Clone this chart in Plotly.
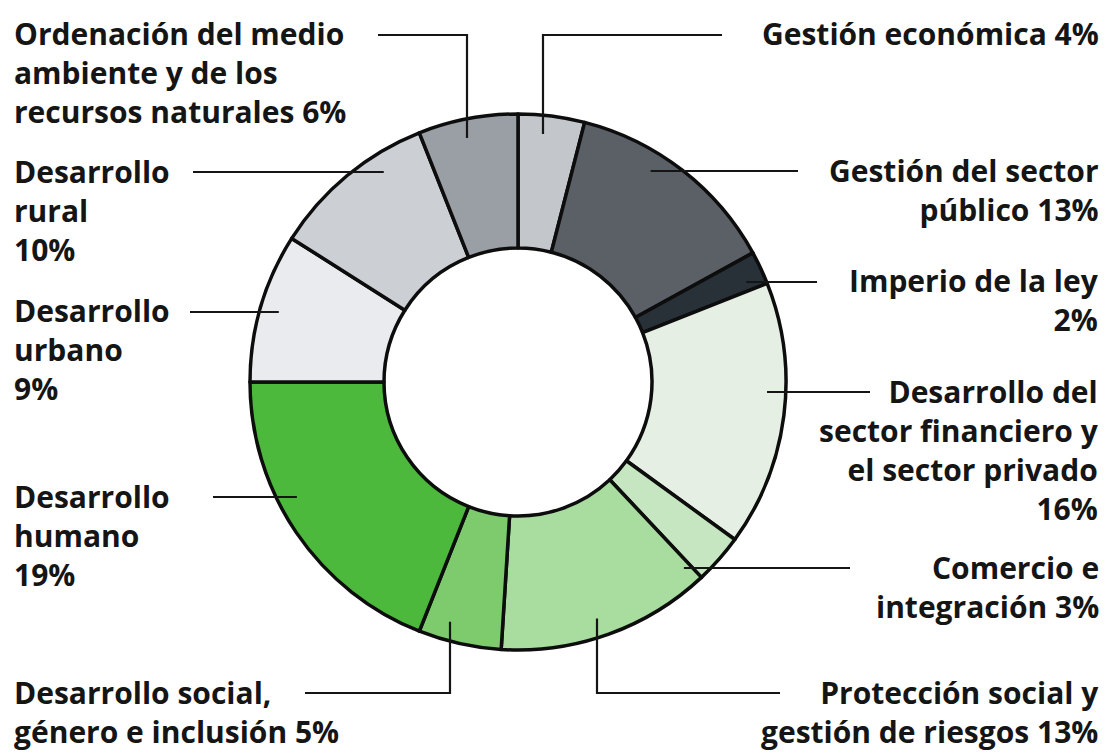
import math
import plotly.graph_objects as go

# ---------------- data ----------------
categories = [
    "Gestión económica",
    "Gestión del sector público",
    "Imperio de la ley",
    "Desarrollo del sector financiero y el sector privado",
    "Comercio e integración",
    "Protección social y gestión de riesgos",
    "Desarrollo social, género e inclusión",
    "Desarrollo humano",
    "Desarrollo urbano",
    "Desarrollo rural",
    "Ordenación del medio ambiente y de los recursos naturales",
]
values = [4, 13, 2, 16, 3, 13, 5, 19, 9, 10, 6]
label_lines = [
    ["Gestión económica {v}%"],
    ["Gestión del sector", "público {v}%"],
    ["Imperio de la ley", "{v}%"],
    ["Desarrollo del", "sector financiero y", "el sector privado", "{v}%"],
    ["Comercio e", "integración {v}%"],
    ["Protección social y", "gestión de riesgos {v}%"],
    ["Desarrollo social,", "género e inclusión {v}%"],
    ["Desarrollo", "humano", "{v}%"],
    ["Desarrollo", "urbano", "{v}%"],
    ["Desarrollo", "rural", "{v}%"],
    ["Ordenación del medio", "ambiente y de los", "recursos naturales {v}%"],
]

# ---------------- style ----------------
colors = ["#c3c7cc", "#5b6067", "#283038", "#e5efe4", "#c6e6c1", "#a9dc9f",
          "#7dcb6c", "#4cb93d", "#eaebee", "#ccd0d5", "#9a9ea5"]

W, H = 1113, 755
CX, CY, R = 518, 382, 268
HOLE = 0.5
FSIZE = 30
FONT = dict(family="Open Sans", size=FSIZE, color="#151515", weight=700)

# label layout: side, text x, first-line centre y, leader type, leader params
# 'h': horizontal line at first-line y from `start` to the ring
# 'v': from `start` horizontally at first-line y to `vx`, then vertically to the ring
label_layout = [
    ("right", 1100, 35, "v", dict(start=722, vx=543)),
    ("right", 1100, 171, "h", dict(start=798)),
    ("right", 1100, 282, "h", dict(start=817)),
    ("right", 1100, 392, "h", dict(start=870)),
    ("right", 1100, 568, "h", dict(start=850)),
    ("right", 1100, 693, "v", dict(start=780, vx=597)),
    ("left", 13, 693, "v", dict(start=305, vx=450)),
    ("left", 13, 497, "h", dict(start=213)),
    ("left", 13, 312, "h", dict(start=190)),
    ("left", 13, 172, "h", dict(start=193)),
    ("left", 13, 35, "v", dict(start=378, vx=467)),
]
RING_K = 0.93  # leader lines end at this fraction of outer radius


def px(x, y):
    return x / W, 1 - y / H


fig = go.Figure(go.Pie(
    labels=categories,
    values=values,
    sort=False,
    direction="clockwise",
    rotation=0,
    hole=HOLE,
    textinfo="none",
    hoverinfo="label+percent",
    marker=dict(colors=colors, line=dict(color="#0d0d0d", width=3.5)),
    domain=dict(x=[(CX - R) / W, (CX + R) / W], y=[(H - CY - R) / H, (H - CY + R) / H]),
    showlegend=False,
))

shapes = []
annotations = []
rk = RING_K * R
half_line = 0.75 * FSIZE
for lines, v, (side, tx, ty, kind, p) in zip(label_lines, values, label_layout):
    x, y = px(tx, ty - half_line)
    annotations.append(dict(
        x=x, y=y, xref="paper", yref="paper",
        text="<br>".join(ln.format(v=v) for ln in lines),
        showarrow=False, xanchor=side, yanchor="top", align=side,
        borderpad=0, font=FONT,
    ))
    if kind == "h":
        dy = ty - CY
        dx = math.sqrt(max(rk * rk - dy * dy, 0))
        ex = CX + dx if p["start"] > CX else CX - dx
        pts = [(p["start"], ty), (ex, ty)]
    else:
        dx = p["vx"] - CX
        dy = math.sqrt(max(rk * rk - dx * dx, 0))
        ey = CY - dy if ty < CY else CY + dy
        pts = [(p["start"], ty), (p["vx"], ty), (p["vx"], ey)]
    path = "M " + " L ".join(f"{px(a, b)[0]:.5f},{px(a, b)[1]:.5f}" for a, b in pts)
    shapes.append(dict(type="path", path=path, xref="paper", yref="paper",
                       line=dict(color="#151515", width=2.2), layer="above"))

fig.update_layout(
    width=W, height=H,
    margin=dict(l=0, r=0, t=0, b=0),
    paper_bgcolor="white", plot_bgcolor="white",
    shapes=shapes, annotations=annotations,
)

fig.write_html(
    "out.html",
    config={"displayModeBar": False},
    post_script="document.body.style.margin='0';document.body.style.overflow='hidden';",
)
